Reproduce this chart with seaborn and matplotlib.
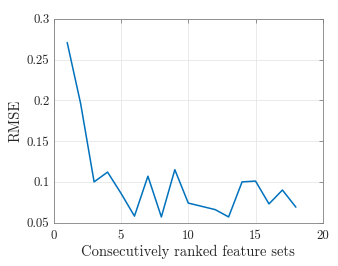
import numpy as np
import pandas as pd
import matplotlib
matplotlib.use("Agg")
import matplotlib.pyplot as plt
import seaborn as sns

# values
feature_sets = list(range(1, 19))
rmse = [0.271, 0.196, 0.100, 0.112, 0.086, 0.058, 0.107, 0.057, 0.115, 0.074,
        0.070, 0.066, 0.057, 0.100, 0.101, 0.073, 0.090, 0.069]
xticks = [0, 5, 10, 15, 20]
yticks = [0.05, 0.1, 0.15, 0.2, 0.25, 0.3]
ytick_labels = ["0.05", "0.1", "0.15", "0.2", "0.25", "0.3"]

df = pd.DataFrame({"set": feature_sets, "rmse": rmse})

sns.set_style("white")
plt.rcParams["font.family"] = ["cmr10", "DejaVu Serif"]
plt.rcParams["axes.formatter.use_mathtext"] = True

fig = plt.figure(figsize=(3.38, 2.66), dpi=100)
ax = fig.add_axes([0.159, 0.163, 0.796, 0.766])

sns.lineplot(data=df, x="set", y="rmse", ax=ax, color="#0072BD", linewidth=1.1)

ax.set_xlim(0, 20)
ax.set_ylim(0.05, 0.3)
ax.set_xticks(xticks)
ax.set_xticklabels([str(t) for t in xticks])
ax.set_yticks(yticks)
ax.set_yticklabels(ytick_labels)
ax.grid(True, color="#e6e6e6", linewidth=0.6)
ax.set_axisbelow(True)
for s in ax.spines.values():
    s.set_color("#808080")
    s.set_linewidth(0.6)
ax.tick_params(direction="in", length=3, width=0.6, color="#808080",
               top=True, right=True, labelsize=9.2, labelcolor="#262626", pad=3)
ax.tick_params(axis="x", pad=5)
ax.set_xlabel("Consecutively ranked feature sets", fontsize=10.5, color="#262626", labelpad=2.5)
ax.set_ylabel("RMSE", fontsize=10.5, color="#262626", labelpad=3)

fig.savefig("out.png", dpi=100)
